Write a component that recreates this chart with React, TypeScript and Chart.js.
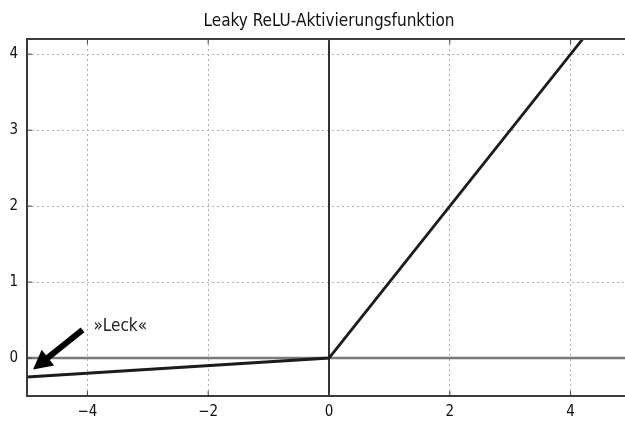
import React, { useEffect, useRef } from "react";
import { Chart, registerables } from "chart.js";

Chart.register(...registerables);

const titleText = "Leaky ReLU-Aktivierungsfunktion";
const xValues = [-5, 0, 5];
const yValues = [-0.25, 0, 5];
const xTicks = [-4, -2, 0, 2, 4];
const yTicks = [0, 1, 2, 3, 4];
const xRange = [-5, 5];
const yRange = [-0.5, 4.2];
const annotationText = "»Leck«";
const arrowFrom = [-4.08, 0.37];
const arrowTo = [-4.9, -0.15];
const annotationAt = [-3.9, 0.41];

const FONT = "'Liberation Sans Narrow', 'DejaVu Sans Condensed', 'Roboto Condensed', 'Open Sans', sans-serif";

const fmt = (v: number) => (v < 0 ? "\u2212" + Math.abs(v) : String(v));

const framePlugin = {
  id: "frameAndAnnotation",
  afterDatasetsDraw(chart: any) {
    const { ctx, chartArea } = chart;
    const xs = chart.scales.x;
    const ys = chart.scales.y;
    ctx.save();
    // inward tick marks
    ctx.strokeStyle = "#444";
    ctx.lineWidth = 1;
    const tl = 5;
    xTicks.forEach((v) => {
      const px = xs.getPixelForValue(v);
      ctx.beginPath();
      ctx.moveTo(px, chartArea.bottom);
      ctx.lineTo(px, chartArea.bottom - tl);
      ctx.moveTo(px, chartArea.top);
      ctx.lineTo(px, chartArea.top + tl);
      ctx.stroke();
    });
    yTicks.forEach((v) => {
      const py = ys.getPixelForValue(v);
      ctx.beginPath();
      ctx.moveTo(chartArea.left, py);
      ctx.lineTo(chartArea.left + tl, py);
      ctx.moveTo(chartArea.right, py);
      ctx.lineTo(chartArea.right - tl, py);
      ctx.stroke();
    });
    // frame
    ctx.strokeStyle = "#3c3c3c";
    ctx.lineWidth = 2;
    ctx.strokeRect(chartArea.left, chartArea.top, chartArea.right - chartArea.left, chartArea.bottom - chartArea.top);
    // arrow
    const x1 = xs.getPixelForValue(arrowFrom[0]);
    const y1 = ys.getPixelForValue(arrowFrom[1]);
    const x2 = xs.getPixelForValue(arrowTo[0]);
    const y2 = ys.getPixelForValue(arrowTo[1]);
    const ang = Math.atan2(y2 - y1, x2 - x1);
    const headLen = 19;
    const headW = 10;
    const bx = x2 - headLen * Math.cos(ang);
    const by = y2 - headLen * Math.sin(ang);
    ctx.strokeStyle = "#000";
    ctx.fillStyle = "#000";
    ctx.lineWidth = 6;
    ctx.lineCap = "butt";
    ctx.beginPath();
    ctx.moveTo(x1, y1);
    ctx.lineTo(bx + 2 * Math.cos(ang), by + 2 * Math.sin(ang));
    ctx.stroke();
    ctx.beginPath();
    ctx.moveTo(x2, y2);
    ctx.lineTo(bx + headW * Math.sin(ang), by - headW * Math.cos(ang));
    ctx.lineTo(bx - headW * Math.sin(ang), by + headW * Math.cos(ang));
    ctx.closePath();
    ctx.fill();
    // annotation text
    ctx.fillStyle = "#222";
    ctx.font = `17px ${FONT}`;
    ctx.textAlign = "left";
    ctx.textBaseline = "middle";
    ctx.fillText(annotationText, xs.getPixelForValue(annotationAt[0]), ys.getPixelForValue(annotationAt[1]));
    ctx.restore();
  },
};

export default function App() {
  const ref = useRef<HTMLCanvasElement | null>(null);
  useEffect(() => {
    if (!ref.current) return;
    const lineData = xValues.map((x, i) => ({ x, y: yValues[i] }));
    const hZero = [
      { x: xRange[0], y: 0 },
      { x: xRange[1], y: 0 },
    ];
    const vZero = [
      { x: 0, y: yRange[0] },
      { x: 0, y: yRange[1] },
    ];
    const gridColor = (c: any) => (c.tick && c.tick.value === 0 ? "rgba(0,0,0,0)" : "#b0b0b0");
    const chart = new Chart(ref.current, {
      type: "line",
      data: {
        datasets: [
          { data: hZero, borderColor: "#7a7a7a", borderWidth: 2.5, pointRadius: 0, clip: 0 as any, order: 3 },
          { data: vZero, borderColor: "#333", borderWidth: 2, pointRadius: 0, clip: 0 as any, order: 2 },
          { data: lineData, borderColor: "#1c1c1c", borderWidth: 2.8, pointRadius: 0, clip: 0 as any, order: 1 },
        ],
      },
      options: {
        animation: false,
        responsive: false,
        maintainAspectRatio: false,
        layout: { padding: { top: 0, right: 9, left: 0, bottom: 0 } },
        plugins: {
          legend: { display: false },
          tooltip: { enabled: false },
          title: {
            display: true,
            text: titleText,
            fullSize: false,
            color: "#111",
            font: { family: FONT, size: 17, weight: "normal", lineHeight: 1.2 },
            padding: { top: 11, bottom: 7.6 },
          },
        },
        scales: {
          x: {
            type: "linear",
            min: xRange[0],
            max: xRange[1],
            afterBuildTicks: (s: any) => {
              s.ticks = xTicks.map((v) => ({ value: v }));
            },
            afterFit: (s: any) => {
              s.height = 25;
            },
            ticks: {
              callback: (v: any) => fmt(Number(v)),
              color: "#111",
              padding: 7,
              maxRotation: 0,
              font: { family: FONT, size: 15 },
            },
            grid: {
              drawTicks: false,
              color: gridColor,
              lineWidth: 1,
            },
            border: { display: false, dash: [2, 3] },
          },
          y: {
            type: "linear",
            min: yRange[0],
            max: yRange[1],
            afterBuildTicks: (s: any) => {
              s.ticks = yTicks.map((v) => ({ value: v }));
            },
            afterFit: (s: any) => {
              s.width = 27;
            },
            ticks: {
              callback: (v: any) => fmt(Number(v)),
              color: "#111",
              padding: 9,
              font: { family: FONT, size: 15 },
            },
            grid: {
              drawTicks: false,
              color: gridColor,
              lineWidth: 1,
            },
            border: { display: false, dash: [2, 3] },
          },
        },
      },
      plugins: [framePlugin],
    });
    return () => chart.destroy();
  }, []);
  return (
    <div style={{ position: "fixed", left: 0, top: 0, width: 625, height: 421, overflow: "hidden", background: "#fff" }}>
      <canvas ref={ref} width={640} height={421} style={{ width: 640, height: 421, display: "block" }} />
    </div>
  );
}
